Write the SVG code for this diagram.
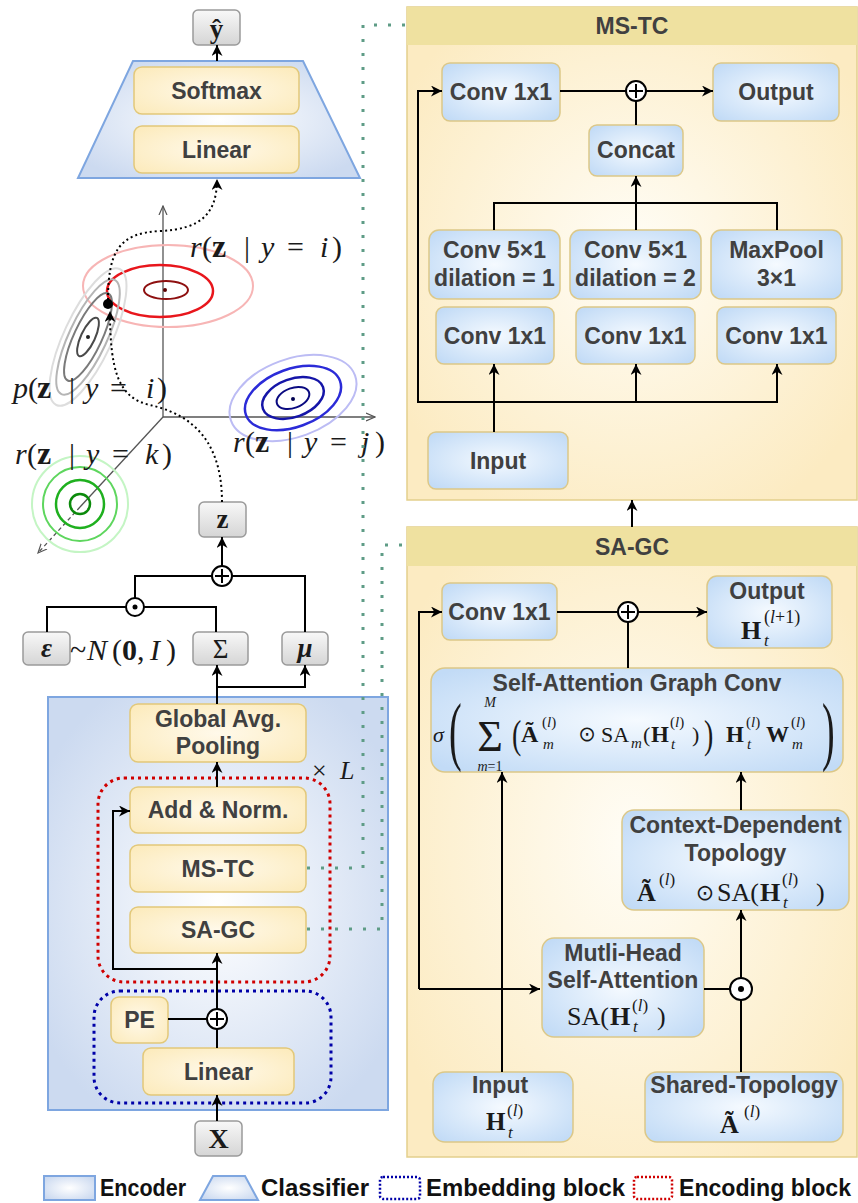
<svg xmlns="http://www.w3.org/2000/svg" width="858" height="1203" viewBox="0 0 858 1203">
<defs>
  <style>
    .lb { font-family: "Liberation Sans", Arial, sans-serif; font-weight: bold; font-size: 23px; fill: #404040; text-anchor: middle; }
    .lg { font-family: "Liberation Sans", Arial, sans-serif; font-weight: bold; font-size: 23px; fill: #111; }
    .mt { font-family: "Liberation Serif", "DejaVu Serif", serif; fill: #1a1a1a; }
    .it { font-style: italic; }
    .bd { font-weight: bold; }
    .op { font-family: "DejaVu Sans", sans-serif; }
    .yb { fill: url(#gY); stroke: #E2C879; stroke-width: 1.5; }
    .bb { fill: url(#gB); stroke: #DCC888; stroke-width: 1.5; }
    .gb { fill: url(#gG); stroke: #9a9a9a; stroke-width: 1.5; }
    .ln { stroke: #000; stroke-width: 2; fill: none; }
    .ar { marker-end: url(#ah); }
    .gd { stroke: #5E9C86; stroke-width: 3; stroke-dasharray: 3 11; fill: none; }
    .dc { stroke: #000; stroke-width: 2; stroke-dasharray: 2 3; fill: none; }
    .ax { stroke: #555; stroke-width: 1.3; fill: none; }
    .sym { fill: #fff; stroke: #000; stroke-width: 2; }
  </style>
  <radialGradient id="gY" cx="50%" cy="50%" r="65%">
    <stop offset="0" stop-color="#FFF9EA"/>
    <stop offset="1" stop-color="#FCEBBD"/>
  </radialGradient>
  <radialGradient id="gB" cx="50%" cy="50%" r="65%">
    <stop offset="0" stop-color="#F5FAFF"/>
    <stop offset="1" stop-color="#C2DBF6"/>
  </radialGradient>
  <radialGradient id="gE" cx="50%" cy="50%" r="60%">
    <stop offset="0" stop-color="#FFFFFF"/>
    <stop offset="1" stop-color="#CCDAF0"/>
  </radialGradient>
  <radialGradient id="gP" cx="50%" cy="50%" r="60%">
    <stop offset="0" stop-color="#FFFDF6"/>
    <stop offset="1" stop-color="#FCEBC2"/>
  </radialGradient>
  <linearGradient id="gG" x1="0" y1="0" x2="0" y2="1">
    <stop offset="0" stop-color="#F8F8F8"/>
    <stop offset="1" stop-color="#D5D5D5"/>
  </linearGradient>
  <marker id="ah" viewBox="0 0 10 10" refX="10" refY="5" markerWidth="11" markerHeight="11" markerUnits="userSpaceOnUse" orient="auto">
    <path d="M0,0 L10,5 L0,10 L3,5 z" fill="#000"/>
  </marker>
  <marker id="oa" viewBox="0 0 10 10" refX="9" refY="5" markerWidth="10" markerHeight="10" markerUnits="userSpaceOnUse" orient="auto">
    <path d="M0,1 L9,5 L0,9" fill="none" stroke="#555" stroke-width="1.2"/>
  </marker>
</defs>

<rect width="858" height="1203" fill="#fff"/>

<!-- ===== classifier ===== -->
<g id="classifier">
  <polygon points="133,61 303,61 360,178 78,178" fill="url(#gE)" stroke="#7EA6E0" stroke-width="2"/>
</g>
<g id="softmax"><rect class="yb" x="134" y="67" width="165" height="47" rx="8"/><text class="lb" x="216.5" y="99">Softmax</text></g>
<g id="cls-linear"><rect class="yb" x="134" y="126" width="165" height="47" rx="8"/><text class="lb" x="216.5" y="158">Linear</text></g>
<g id="yhat"><rect class="gb" x="193" y="10" width="47" height="35" rx="5"/><text class="mt bd" x="216.5" y="38" font-size="27" text-anchor="middle">ŷ</text></g>

<!-- ===== latent space plot ===== -->
<g id="latent-plot">
  <line class="ax" x1="163" y1="417" x2="163" y2="206" marker-end="url(#oa)"/>
  <line class="ax" x1="163" y1="417" x2="375" y2="417" marker-end="url(#oa)"/>
  <line class="ax" x1="163" y1="417" x2="80" y2="507"/>
  <line class="ax" x1="80" y1="507" x2="38" y2="553" stroke-dasharray="4 3" marker-end="url(#oa)"/>

  <!-- r(z|y=i) -->
  <g fill="none">
    <ellipse cx="168" cy="286" rx="85" ry="41" stroke="#F7B5B5" stroke-width="2"/>
    <ellipse cx="160" cy="291" rx="53" ry="26" stroke="#E8161C" stroke-width="2.5"/>
    <ellipse cx="166" cy="290" rx="22" ry="9" stroke="#8E1010" stroke-width="2"/>
  </g>
  <circle cx="165" cy="290" r="2" fill="#5a0000"/>

  <!-- p(z|y=i) -->
  <g fill="none" transform="translate(88,337) rotate(-65)">
    <ellipse rx="75" ry="24" stroke="#DDDDDD" stroke-width="2"/>
    <ellipse rx="63" ry="19" stroke="#B5B5B5" stroke-width="2"/>
    <ellipse rx="48" ry="14" stroke="#7A7A7A" stroke-width="2"/>
    <ellipse rx="21" ry="7" stroke="#4A4A4A" stroke-width="2"/>
  </g>
  <circle cx="88" cy="337" r="2" fill="#222"/>

  <!-- r(z|y=j) -->
  <g fill="none" transform="translate(293,398) rotate(-20)">
    <ellipse rx="66" ry="39" stroke="#BCBCF4" stroke-width="2"/>
    <ellipse rx="50" ry="29" stroke="#2B2BD8" stroke-width="2.5"/>
    <ellipse rx="32" ry="19" stroke="#1515A8" stroke-width="2.5"/>
    <ellipse rx="17" ry="10" stroke="#0A0A80" stroke-width="2"/>
  </g>
  <circle cx="293" cy="399" r="2" fill="#000050"/>

  <!-- r(z|y=k) -->
  <g fill="none">
    <circle cx="80" cy="504" r="48" stroke="#C4F5C4" stroke-width="2"/>
    <circle cx="80" cy="504" r="37" stroke="#5ED65E" stroke-width="2"/>
    <circle cx="80" cy="504" r="24" stroke="#1FB01F" stroke-width="2.5"/>
    <circle cx="80" cy="504" r="10" stroke="#0B8A0B" stroke-width="2.5"/>
  </g>

  <circle cx="108" cy="304" r="5" fill="#000"/>

  <text class="mt" y="257" font-size="30"><tspan class="it" x="190">r</tspan><tspan x="202">(</tspan><tspan class="bd" x="212" font-size="32">z</tspan><tspan x="244">|</tspan><tspan class="it" x="261">y</tspan><tspan x="287">=</tspan><tspan class="it" x="320">i</tspan><tspan x="332">)</tspan></text>
  <text class="mt" y="398" font-size="30"><tspan class="it" x="13">p</tspan><tspan x="28">(</tspan><tspan class="bd" x="37" font-size="32">z</tspan><tspan x="69">|</tspan><tspan class="it" x="85">y</tspan><tspan x="110">=</tspan><tspan class="it" x="146">i</tspan><tspan x="157">)</tspan></text>
  <text class="mt" y="452" font-size="30"><tspan class="it" x="233">r</tspan><tspan x="245">(</tspan><tspan class="bd" x="255" font-size="32">z</tspan><tspan x="287">|</tspan><tspan class="it" x="304">y</tspan><tspan x="330">=</tspan><tspan class="it" x="361">j</tspan><tspan x="375">)</tspan></text>
  <text class="mt" y="464" font-size="30"><tspan class="it" x="15">r</tspan><tspan x="27">(</tspan><tspan class="bd" x="37" font-size="32">z</tspan><tspan x="69">|</tspan><tspan class="it" x="86">y</tspan><tspan x="112">=</tspan><tspan class="it" x="145">k</tspan><tspan x="162">)</tspan></text>
</g>

<!-- ===== reparameterisation ===== -->
<g id="z"><rect class="gb" x="199" y="502" width="47" height="35" rx="5"/><text class="mt bd" x="222.5" y="528" font-size="27" text-anchor="middle">z</text></g>
<g id="eps"><rect class="gb" x="23" y="632" width="47" height="33" rx="5"/><text class="mt bd it" x="46.5" y="657" font-size="27" text-anchor="middle">ε</text></g>
<text class="mt" y="660" font-size="30"><tspan x="70">~</tspan><tspan class="it" x="87">N</tspan><tspan x="112">(</tspan><tspan class="bd" x="122">0</tspan><tspan x="137">,</tspan><tspan class="it" x="150">I</tspan><tspan x="166">)</tspan></text>
<g id="sigma"><rect class="gb" x="193" y="632" width="55" height="33" rx="5"/><text class="mt" x="220.5" y="658" font-size="27" text-anchor="middle">Σ</text></g>
<g id="mu"><rect class="gb" x="282" y="632" width="46" height="33" rx="5"/><text class="mt bd it" x="305" y="657" font-size="27" text-anchor="middle">μ</text></g>

<!-- ===== encoder ===== -->
<g id="encoder"><rect x="48" y="697" width="340" height="413" fill="url(#gE)" stroke="#7EA6E0" stroke-width="2"/></g>
<g id="encoding-block"><rect x="98" y="778" width="232" height="204" rx="26" fill="none" stroke="#D00000" stroke-width="3" stroke-dasharray="3 4"/></g>
<g id="embedding-block"><rect x="94" y="991" width="237" height="112" rx="26" fill="none" stroke="#0000A8" stroke-width="3" stroke-dasharray="3 4"/></g>
<text class="mt" y="779" font-size="26"><tspan x="312">×</tspan><tspan class="it" x="340">L</tspan></text>
<g id="gap"><rect class="yb" x="130" y="704" width="176" height="58" rx="8"/><text class="lb" x="218" y="727">Global Avg.</text><text class="lb" x="218" y="754">Pooling</text></g>
<g id="addnorm"><rect class="yb" x="130" y="787" width="176" height="46" rx="8"/><text class="lb" x="218" y="818">Add &amp; Norm.</text></g>
<g id="mstc"><rect class="yb" x="130" y="845" width="176" height="47" rx="8"/><text class="lb" x="218" y="877">MS-TC</text></g>
<g id="sagc"><rect class="yb" x="130" y="907" width="176" height="46" rx="8"/><text class="lb" x="218" y="938">SA-GC</text></g>
<g id="pe"><rect class="yb" x="111" y="997" width="57" height="46" rx="8"/><text class="lb" x="139.5" y="1028">PE</text></g>
<g id="emb-linear"><rect class="yb" x="143" y="1048" width="151" height="47" rx="8"/><text class="lb" x="218.5" y="1080">Linear</text></g>
<g id="x"><rect class="gb" x="195" y="1121" width="47" height="35" rx="5"/><text class="mt bd" x="218.5" y="1148" font-size="28" text-anchor="middle">X</text></g>

<!-- ===== MS-TC panel ===== -->
<g id="mstc-panel">
  <rect x="407" y="7" width="450" height="493" fill="url(#gP)" stroke="#E3CF8C" stroke-width="1.5"/>
  <rect x="407" y="7" width="450" height="38" fill="#EFE1A0"/>
  <text class="lb" x="632" y="34" font-size="22">MS-TC</text>
</g>
<g id="mstc-conv"><rect class="bb" x="442" y="63" width="118" height="58" rx="8"/><text class="lb" x="501" y="100">Conv 1x1</text></g>
<g id="mstc-output"><rect class="bb" x="713" y="63" width="126" height="58" rx="8"/><text class="lb" x="776" y="100">Output</text></g>
<g id="concat"><rect class="bb" x="589" y="125" width="94" height="51" rx="8"/><text class="lb" x="636" y="158">Concat</text></g>
<g id="branch1"><rect class="bb" x="429" y="230" width="131" height="69" rx="10"/><text class="lb" x="494.5" y="258">Conv 5×1</text><text class="lb" x="494.5" y="286">dilation = 1</text></g>
<g id="branch2"><rect class="bb" x="570" y="230" width="131" height="69" rx="10"/><text class="lb" x="635.5" y="258">Conv 5×1</text><text class="lb" x="635.5" y="286">dilation = 2</text></g>
<g id="branch3"><rect class="bb" x="711" y="230" width="131" height="69" rx="10"/><text class="lb" x="776.5" y="258">MaxPool</text><text class="lb" x="776.5" y="286">3×1</text></g>
<g id="pw1"><rect class="bb" x="436" y="307" width="118" height="57" rx="8"/><text class="lb" x="495" y="344">Conv 1x1</text></g>
<g id="pw2"><rect class="bb" x="576" y="307" width="119" height="57" rx="8"/><text class="lb" x="635.5" y="344">Conv 1x1</text></g>
<g id="pw3"><rect class="bb" x="717" y="307" width="119" height="57" rx="8"/><text class="lb" x="776.5" y="344">Conv 1x1</text></g>
<g id="mstc-input"><rect class="bb" x="428" y="432" width="140" height="57" rx="8"/><text class="lb" x="498" y="469">Input</text></g>

<!-- ===== SA-GC panel ===== -->
<g id="sagc-panel">
  <rect x="407" y="527" width="450" height="630" fill="url(#gP)" stroke="#E3CF8C" stroke-width="1.5"/>
  <rect x="407" y="527" width="450" height="39" fill="#EFE1A0"/>
  <text class="lb" x="632" y="555" font-size="22">SA-GC</text>
</g>
<g id="sagc-conv"><rect class="bb" x="442" y="583" width="115" height="57" rx="8"/><text class="lb" x="499.5" y="620">Conv 1x1</text></g>
<g id="sagc-output">
  <rect class="bb" x="707" y="576" width="125" height="72" rx="10"/>
  <text class="lb" x="767" y="599">Output</text>
  <text class="mt bd" x="741" y="639" font-size="26">H</text>
  <text class="mt it" x="764" y="646" font-size="17">t</text>
  <text class="mt" x="764" y="623" font-size="18">(<tspan class="it">l</tspan>+1)</text>
</g>
<g id="sa-graph-conv">
  <rect class="bb" x="431" y="668" width="412" height="104" rx="14"/>
  <text class="lb" x="637" y="691">Self-Attention Graph Conv</text>
  <text class="mt it" x="433" y="742" font-size="22">σ</text>
  <text class="mt" font-size="76" transform="translate(449,756) scale(0.5,1)">(</text>
  <text class="mt" x="490" y="751" font-size="44" text-anchor="middle">Σ</text>
  <text class="mt it" x="490" y="707" font-size="14" text-anchor="middle">M</text>
  <text class="mt" x="490" y="771" font-size="14" text-anchor="middle"><tspan class="it">m</tspan>=1</text>
  <text class="mt" font-size="40" transform="translate(512,748) scale(0.7,1)">(</text>
  <text class="mt bd" x="521" y="742" font-size="24">Ã</text>
  <text class="mt" x="542" y="727" font-size="15">(<tspan class="it">l</tspan>)</text>
  <text class="mt it" x="543" y="749" font-size="15">m</text>
  <text class="mt op" x="587" y="741" font-size="21" text-anchor="middle">⊙</text>
  <text class="mt" x="601" y="742" font-size="22">SA</text>
  <text class="mt it" x="631" y="748" font-size="15">m</text>
  <text class="mt" x="643" y="742" font-size="22">(</text>
  <text class="mt bd" x="651" y="742" font-size="23">H</text>
  <text class="mt" x="670" y="727" font-size="15">(<tspan class="it">l</tspan>)</text>
  <text class="mt it" x="671" y="749" font-size="15">t</text>
  <text class="mt" x="692" y="742" font-size="22">)</text>
  <text class="mt" font-size="40" transform="translate(704,748) scale(0.7,1)">)</text>
  <text class="mt bd" x="726" y="742" font-size="23">H</text>
  <text class="mt" x="746" y="727" font-size="15">(<tspan class="it">l</tspan>)</text>
  <text class="mt it" x="747" y="749" font-size="15">t</text>
  <text class="mt bd" x="766" y="742" font-size="23">W</text>
  <text class="mt" x="791" y="727" font-size="15">(<tspan class="it">l</tspan>)</text>
  <text class="mt it" x="792" y="749" font-size="15">m</text>
  <text class="mt" font-size="76" transform="translate(822,756) scale(0.5,1)">)</text>
</g>
<g id="ctx-topology">
  <rect class="bb" x="622" y="810" width="227" height="100" rx="12"/>
  <text class="lb" x="735.5" y="833">Context-Dependent</text>
  <text class="lb" x="735.5" y="861">Topology</text>
  <text class="mt bd" x="637" y="901" font-size="26">Ã</text>
  <text class="mt" x="659" y="885" font-size="17">(<tspan class="it">l</tspan>)</text>
  <text class="mt op" x="705" y="900" font-size="22" text-anchor="middle">⊙</text>
  <text class="mt" x="717" y="901" font-size="26">SA(</text>
  <text class="mt bd" x="760" y="901" font-size="26">H</text>
  <text class="mt" x="782" y="885" font-size="17">(<tspan class="it">l</tspan>)</text>
  <text class="mt it" x="783" y="908" font-size="17">t</text>
  <text class="mt" x="816" y="901" font-size="26">)</text>
</g>
<g id="mhsa">
  <rect class="bb" x="542" y="938" width="162" height="99" rx="12"/>
  <text class="lb" x="623" y="961">Mutli-Head</text>
  <text class="lb" x="623" y="988">Self-Attention</text>
  <text class="mt" x="567" y="1025" font-size="26">SA(</text>
  <text class="mt bd" x="610" y="1025" font-size="26">H</text>
  <text class="mt" x="632" y="1011" font-size="17">(<tspan class="it">l</tspan>)</text>
  <text class="mt it" x="633" y="1032" font-size="17">t</text>
  <text class="mt" x="657" y="1025" font-size="26">)</text>
</g>
<g id="sagc-input">
  <rect class="bb" x="433" y="1072" width="140" height="70" rx="12"/>
  <text class="lb" x="500" y="1093">Input</text>
  <text class="mt bd" x="486" y="1130" font-size="25">H</text>
  <text class="mt" x="507" y="1116" font-size="17">(<tspan class="it">l</tspan>)</text>
  <text class="mt it" x="508" y="1138" font-size="17">t</text>
</g>
<g id="shared-topology">
  <rect class="bb" x="645" y="1072" width="198" height="70" rx="12"/>
  <text class="lb" x="744" y="1093">Shared-Topology</text>
  <text class="mt bd" x="720" y="1133" font-size="26">Ã</text>
  <text class="mt" x="744" y="1117" font-size="17">(<tspan class="it">l</tspan>)</text>
</g>

<!-- ===== connectors ===== -->
<g id="connectors">
  <!-- classifier / latent -->
  <line class="ln ar" x1="217" y1="61" x2="217" y2="45"/>
  <path class="dc ar" d="M108,300 C108,250 120,233 160,231 C200,229 217,215 217,179"/>
  <path class="dc ar" d="M222,502 C222,430 180,412 150,405 C118,398 110,370 110,311"/>
  <line class="ln ar" x1="222" y1="566" x2="222" y2="537"/>
  <polyline class="ln" points="135,598 135,576 212,576"/>
  <polyline class="ln" points="232,576 305,576 305,632"/>
  <polyline class="ln" points="47,632 47,607 126,607"/>
  <polyline class="ln" points="144,607 216,607 216,632"/>
  <line class="ln ar" x1="217" y1="704" x2="217" y2="665"/>
  <polyline class="ln ar" points="217,687 305,687 305,665"/>
  <!-- encoder -->
  <line class="ln ar" x1="217" y1="787" x2="217" y2="762"/>
  <polyline class="ln ar" points="217,969 113,969 113,811 130,811"/>
  <line class="ln ar" x1="217" y1="1009" x2="217" y2="953"/>
  <line class="ln" x1="168" y1="1019" x2="207" y2="1019"/>
  <line class="ln" x1="217" y1="1048" x2="217" y2="1029"/>
  <line class="ln ar" x1="217" y1="1121" x2="217" y2="1095"/>
  <!-- block details -->
  <path class="gd" d="M307,868 H363 V25 H405"/>
  <path class="gd" d="M307,929 H382 V545 H405"/>
  <!-- MS-TC -->
  <path class="ln ar" d="M494,402 H418 V91 H442"/>
  <path class="ln ar" d="M494,432 V364"/>
  <path class="ln ar" d="M494,402 H777 V364"/>
  <path class="ln ar" d="M636,402 V364"/>
  <path class="ln" d="M494,230 V203 H777 V230"/>
  <path class="ln ar" d="M636,230 V176"/>
  <path class="ln" d="M636,125 V101"/>
  <path class="ln" d="M560,91 H626"/>
  <path class="ln ar" d="M646,91 H713"/>
  <path class="ln ar" d="M632,527 V500"/>
  <!-- SA-GC -->
  <path class="ln" d="M557,612 H618"/>
  <path class="ln ar" d="M638,612 H707"/>
  <path class="ln" d="M628,668 V622"/>
  <path class="ln ar" d="M502,1072 V772"/>
  <path class="ln ar" d="M419,989 V612 H442"/>
  <path class="ln ar" d="M419,989 H540"/>
  <path class="ln" d="M704,989 H730"/>
  <path class="ln" d="M741,1072 V1000"/>
  <path class="ln ar" d="M741,978 V910"/>
  <path class="ln ar" d="M741,810 V772"/>
</g>

<!-- ===== operators ===== -->
<g id="ops">
  <g id="add-z"><circle class="sym" cx="222" cy="576" r="10"/><path class="ln" d="M215,576 H229 M222,569 V583"/></g>
  <g id="mul-eps"><circle class="sym" cx="135" cy="607" r="9"/><circle cx="135" cy="607" r="2.5" fill="#000"/></g>
  <g id="add-pe"><circle class="sym" cx="217" cy="1019" r="10"/><path class="ln" d="M210,1019 H224 M217,1012 V1026"/></g>
  <g id="add-mstc"><circle class="sym" cx="636" cy="91" r="10"/><path class="ln" d="M629,91 H643 M636,84 V98"/></g>
  <g id="add-sagc"><circle class="sym" cx="628" cy="612" r="10"/><path class="ln" d="M621,612 H635 M628,605 V619"/></g>
  <g id="mul-topo"><circle class="sym" cx="741" cy="989" r="11"/><circle cx="741" cy="989" r="3" fill="#000"/></g>
</g>

<!-- ===== legend ===== -->
<g id="legend">
  <rect x="44" y="1176" width="51" height="24" fill="url(#gE)" stroke="#7EA6E0" stroke-width="2"/>
  <text class="lg" x="100" y="1196" textLength="86" lengthAdjust="spacingAndGlyphs">Encoder</text>
  <polygon points="213,1176 245,1176 258,1200 200,1200" fill="url(#gE)" stroke="#7EA6E0" stroke-width="2"/>
  <text class="lg" x="261" y="1196" textLength="108" lengthAdjust="spacingAndGlyphs">Classifier</text>
  <rect x="380" y="1177" width="40" height="22" rx="3" fill="none" stroke="#0000A8" stroke-width="2.5" stroke-dasharray="2 2"/>
  <text class="lg" x="426" y="1196" textLength="199" lengthAdjust="spacingAndGlyphs">Embedding block</text>
  <rect x="634" y="1177" width="38" height="22" rx="3" fill="none" stroke="#D00000" stroke-width="2.5" stroke-dasharray="2 2"/>
  <text class="lg" x="679" y="1196" textLength="172" lengthAdjust="spacingAndGlyphs">Encoding block</text>
</g>
</svg>
